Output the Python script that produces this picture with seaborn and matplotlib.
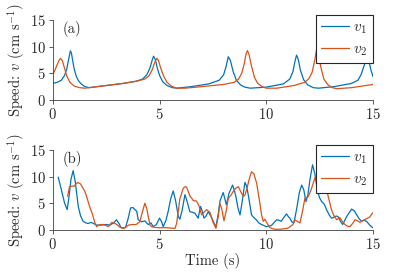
import matplotlib
matplotlib.use("Agg")
import matplotlib.pyplot as plt
import seaborn as sns
import pandas as pd

# ---------- data: panel (a) ----------
ta1 = [0, 0.2, 0.4, 0.55, 0.65, 0.75, 0.82, 0.87, 0.93, 1.0, 1.1, 1.2, 1.35, 1.5, 1.7, 2.5, 3.3, 3.9,
       4.2, 4.4, 4.55, 4.65, 4.72, 4.8, 4.9, 5.0, 5.15, 5.35, 5.6, 5.8, 6.5, 7.3, 7.8, 8.0, 8.12, 8.22,
       8.32, 8.45, 8.6, 8.8, 9.0, 9.25, 10.0, 10.8, 11.1, 11.25, 11.35, 11.42, 11.5, 11.6, 11.75, 11.95,
       12.2, 12.45, 13.2, 14.0, 14.3, 14.45, 14.6, 14.7, 14.8, 14.9, 15.0]
va1 = [3.1, 3.3, 3.7, 4.6, 5.8, 7.8, 9.2, 8.8, 7.3, 5.8, 4.4, 3.6, 2.9, 2.5, 2.3, 2.7, 3.1, 3.5,
       3.9, 4.7, 6.0, 7.4, 8.2, 7.6, 5.9, 4.6, 3.4, 2.7, 2.3, 2.2, 2.5, 3.0, 3.7, 4.7, 6.3, 8.1,
       7.4, 5.3, 3.7, 2.8, 2.4, 2.2, 2.4, 3.0, 3.9, 5.3, 7.3, 8.4, 7.6, 5.6, 3.8, 2.8,
       2.3, 2.2, 2.5, 3.1, 3.7, 4.8, 6.6, 8.2, 7.5, 5.7, 4.4]

ta2 = [0, 0.1, 0.2, 0.3, 0.36, 0.45, 0.55, 0.65, 0.8, 1.0, 1.25, 1.5, 1.7, 2.5, 3.3, 3.9, 4.3, 4.5,
       4.65, 4.77, 4.87, 4.95, 5.05, 5.2, 5.35, 5.55, 5.8, 6.2, 7.0, 8.0, 8.5, 8.7, 8.85, 8.97, 9.05,
       9.12, 9.2, 9.3, 9.45, 9.6, 9.8, 10.0, 10.5, 11.3, 11.8, 12.0, 12.15, 12.28, 12.36, 12.45, 12.55,
       12.7, 12.9, 13.1, 13.3, 14.0, 15.0]
va2 = [4.8, 5.6, 6.6, 7.5, 7.8, 7.3, 5.9, 4.5, 3.3, 2.6, 2.3, 2.2, 2.3, 2.7, 3.1, 3.5, 3.9, 4.5,
       5.6, 7.0, 7.8, 7.4, 6.0, 4.4, 3.3, 2.6, 2.2, 2.2, 2.5, 2.9, 3.3, 3.9, 5.0, 6.8, 8.6,
       9.25, 8.4, 6.5, 4.2, 3.1, 2.5, 2.2, 2.2, 2.7, 3.3, 4.0, 5.2, 7.6, 9.5, 8.6, 6.3,
       3.9, 2.8, 2.3, 2.1, 2.3, 2.9]

# ---------- data: panel (b) ----------
tb1 = [0.25, 0.4, 0.55, 0.67, 0.75, 0.85, 0.95, 1.05, 1.19, 1.3, 1.42, 1.55, 1.65, 1.8, 1.95, 2.05,
       2.3, 2.5, 2.67, 2.85, 2.98, 3.1, 3.2, 3.4, 3.52, 3.64, 3.75, 3.84, 3.93, 4.0, 4.16, 4.31, 4.47,
       4.6, 4.7, 4.85, 5.0, 5.1, 5.17, 5.3, 5.4, 5.52, 5.64, 5.75, 5.88, 5.95, 6.05, 6.19, 6.3, 6.42,
       6.55, 6.66, 6.81, 6.92, 7.0, 7.08, 7.18, 7.28, 7.4, 7.52, 7.64, 7.75, 7.83, 7.98, 8.05, 8.13,
       8.25, 8.42, 8.5, 8.58, 8.68, 8.77, 8.88, 9.0, 9.08, 9.16, 9.31, 9.42, 9.53, 9.65, 9.78, 9.9,
       10.0, 10.12, 10.24, 10.35, 10.49, 10.6, 10.7, 10.82, 10.95, 11.05, 11.11, 11.2, 11.3, 11.45,
       11.55, 11.66, 11.76, 11.86, 11.95, 12.05, 12.17, 12.28, 12.39, 12.5, 12.6, 12.72, 12.83, 12.95,
       13.06, 13.14, 13.22, 13.3, 13.38, 13.48, 13.58, 13.68, 13.77, 13.9, 14.0, 14.12, 14.24, 14.35,
       14.47, 14.58, 14.7, 14.85, 14.99]
vb1 = [9.9, 7.5, 5.0, 3.8, 6.0, 9.5, 11.1, 9.0, 4.4, 2.6, 1.6, 1.3, 1.2, 1.4, 1.1, 0.9,
       0.9, 1.0, 0.9, 1.3, 1.9, 1.2, 0.4, 0.4, 2.0, 4.1, 4.2, 3.8, 3.5, 1.9, 1.5, 1.7, 1.0,
       1.3, 0.6, 1.0, 2.2, 1.5, 0.6, 1.8, 3.4, 5.8, 7.3, 5.5, 2.5, 2.0, 3.5, 6.6, 5.2, 3.4,
       3.3, 3.1, 2.2, 4.4, 3.5, 2.2, 2.6, 3.4, 2.6, 1.6, 0.5, 3.0, 5.4, 7.0, 6.0, 4.7,
       6.8, 8.4, 7.5, 6.2, 4.0, 2.8, 5.5, 8.9, 8.2, 6.5, 2.8, 2.3, 1.9, 1.3, 1.0, 0.8,
       0.6, 0.7, 0.8, 1.3, 1.9, 1.8, 1.6, 2.3, 3.0, 2.4, 2.2, 1.5, 1.3, 4.5,
       7.0, 8.4, 7.5, 5.3, 6.5, 9.5, 12.2, 10.5, 7.5, 6.0, 5.3, 4.8, 3.75, 2.8,
       2.2, 2.3, 2.5, 2.6, 2.4, 1.6, 1.0, 1.8, 2.5, 3.3, 3.9, 3.6, 2.8, 2.1,
       1.6, 1.8, 1.6, 0.9, 0.4]

tb2 = [0.69, 0.78, 0.9, 1.0, 1.08, 1.17, 1.3, 1.5, 1.6, 1.72, 1.85, 1.97, 2.05, 2.2, 2.37, 2.5, 2.6,
       2.76, 2.9, 3.0, 3.15, 3.3, 3.45, 3.55, 3.7, 3.9, 4.07, 4.16, 4.31, 4.4, 4.47, 4.55, 4.63, 4.8,
       5.0, 5.33, 5.64, 5.72, 5.8, 5.95, 6.11, 6.2, 6.27, 6.42, 6.58, 6.73, 6.85, 6.97, 7.08, 7.2,
       7.36, 7.5, 7.64, 7.75, 7.83, 7.92, 8.02, 8.12, 8.22, 8.35, 8.45, 8.57, 8.69, 8.8, 8.92, 9.0,
       9.08, 9.2, 9.31, 9.42, 9.55, 9.62, 9.7, 9.78, 9.86, 9.93, 10.05, 10.16, 10.3, 10.48, 10.75,
       11.0, 11.12, 11.25, 11.34, 11.45, 11.58, 11.7, 11.81, 11.97, 12.1, 12.2, 12.32, 12.44, 12.6,
       12.72, 12.83, 12.95, 13.06, 13.18, 13.3, 13.45, 13.58, 13.69, 13.8, 13.92, 14.05, 14.16,
       14.28, 14.39, 14.55, 14.7, 14.85, 14.99]
vb2 = [6.3, 8.1, 8.2, 8.2, 8.6, 8.9, 8.6, 7.2, 6.0, 4.4, 3.0, 1.3, 0.6, 1.0, 1.0, 0.8, 0.6,
       1.4, 1.2, 1.0, 0.5, 0.25, 0.6, 0.9, 1.0, 1.0, 1.5, 2.8, 5.0, 4.0, 2.5, 0.9, 0.6, 0.45,
       0.4, 0.4, 0.3, 0.25, 1.2, 5.8, 7.8, 8.1, 8.0, 6.4, 5.5, 5.4, 4.5, 2.8, 3.3, 3.8,
       3.3, 1.5, 0.3, 2.5, 5.0, 3.8, 1.7, 3.5, 5.9, 6.5, 7.2, 7.8, 8.1, 7.2, 6.3, 6.5,
       7.5, 9.5, 10.9, 10.5, 8.75, 7.0, 5.0, 2.8, 1.6, 2.0, 1.2, 0.45, 0.2, 0.1, 0.15,
       0.3, 0.6, 1.0, 1.9, 1.6, 1.3, 3.5, 5.9, 6.25, 7.5, 8.75, 10.2, 10.8, 10.0,
       8.8, 7.5, 5.5, 3.75, 2.6, 1.9, 2.3, 1.5, 1.0, 0.7, 0.6, 1.2, 1.9,
       1.7, 1.4, 1.8, 2.1, 2.4, 3.2]

series_labels = ["$v_1$", "$v_2$"]
panel_labels = ["(a)", "(b)"]
ticks = [0, 5, 10, 15]
xlabel = "Time (s)"
ylabel = "Speed: $v$ (cm s$^{-1}$)"

# ---------- style ----------
sns.set_theme(style="ticks")
FS = 10.5
plt.rcParams.update({
    "font.family": ["cmr10", "DejaVu Serif"],
    "mathtext.fontset": "cm",
    "axes.formatter.use_mathtext": True,
    "axes.unicode_minus": False,
    "axes.edgecolor": "#404040",
    "axes.linewidth": 0.6,
    "xtick.color": "#404040",
    "ytick.color": "#404040",
    "xtick.labelcolor": "#262626",
    "ytick.labelcolor": "#262626",
    "xtick.major.size": 3,
    "ytick.major.size": 3,
    "xtick.major.width": 0.6,
    "ytick.major.width": 0.6,
    "xtick.direction": "out",
    "ytick.direction": "out",
    "font.size": FS,
    "text.color": "#262626",
    "axes.labelcolor": "#262626",
})

c1 = "#0072BD"
c2 = "#D95319"

fig = plt.figure(figsize=(4.13, 2.73), dpi=100)
ax_a = fig.add_axes([0.128, 0.634, 0.775, 0.293])
ax_b = fig.add_axes([0.128, 0.158, 0.775, 0.293])

panels = [
    (ax_a, (ta1, va1), (ta2, va2)),
    (ax_b, (tb1, vb1), (tb2, vb2)),
]

for i, (ax, s1, s2) in enumerate(panels):
    d1 = pd.DataFrame({"t": s1[0], "v": s1[1]})
    d2 = pd.DataFrame({"t": s2[0], "v": s2[1]})
    sns.lineplot(data=d1, x="t", y="v", ax=ax, color=c1, lw=0.9,
                 label=series_labels[0], estimator=None, sort=False)
    sns.lineplot(data=d2, x="t", y="v", ax=ax, color=c2, lw=0.9,
                 label=series_labels[1], estimator=None, sort=False)
    ax.set_xlim(0, 15)
    ax.set_ylim(0, 15)
    ax.set_xticks(ticks)
    ax.set_yticks(ticks)
    ax.tick_params(labelsize=FS, pad=2)
    sns.despine(ax=ax)
    ax.set_ylabel(ylabel, fontsize=FS, labelpad=2)
    ax.set_xlabel(xlabel if i == 1 else "", fontsize=FS, labelpad=1)
    ax.text(0.03, 0.99, panel_labels[i], transform=ax.transAxes,
            ha="left", va="top", fontsize=FS)
    leg = ax.legend(loc="upper right", bbox_to_anchor=(1.0, 1.06),
                    borderaxespad=0, fancybox=False, framealpha=1,
                    edgecolor="#262626", fontsize=11, handlelength=1.8,
                    handletextpad=0.3, borderpad=0.35, labelspacing=0.45)
    leg.get_frame().set_linewidth(0.8)

fig.savefig("out.png", dpi=100)
